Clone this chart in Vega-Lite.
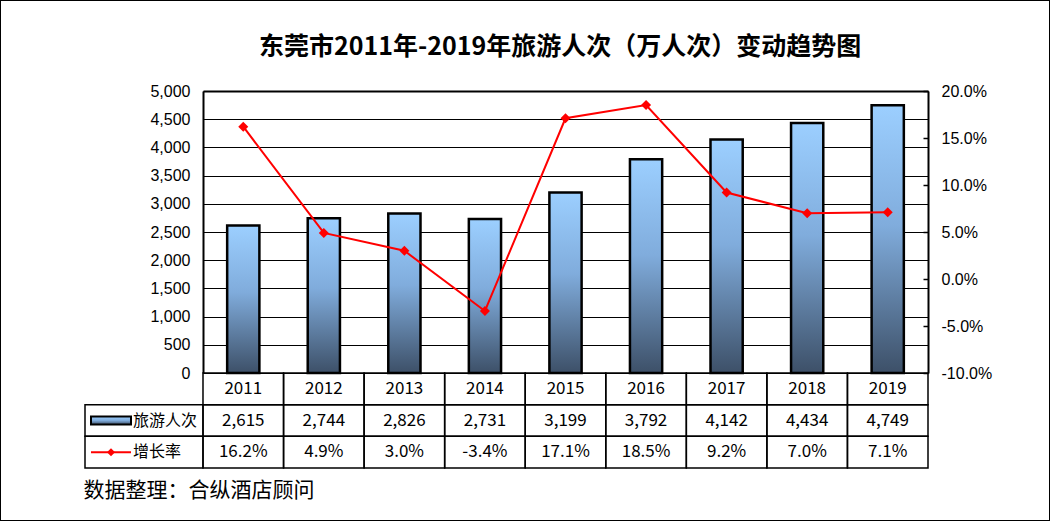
{
  "$schema": "https://vega.github.io/schema/vega-lite/v6.json",
  "width": 1050,
  "height": 521,
  "autosize": {"type": "none"},
  "padding": 0,
  "background": "white",
  "config": {
    "view": {"stroke": "black", "strokeWidth": 2},
    "font": "Noto Sans CJK SC",
    "locale": {
      "number": {"decimal": ".", "thousands": ",", "grouping": [3], "currency": ["$", ""], "minus": "-"}
    }
  },
  "title": {
    "text": "东莞市2011年-2019年旅游人次（万人次）变动趋势图",
    "font": "Noto Sans CJK SC",
    "fontSize": 25,
    "fontWeight": "bold",
    "color": "black",
    "anchor": "middle",
    "frame": "group",
    "offset": -72,
    "baseline": "middle",
    "dx": 35
  },
  "data": {
    "values": [
      {"year": "2011", "visitors": 2615, "growth": 0.162},
      {"year": "2012", "visitors": 2744, "growth": 0.049},
      {"year": "2013", "visitors": 2826, "growth": 0.030},
      {"year": "2014", "visitors": 2731, "growth": -0.034},
      {"year": "2015", "visitors": 3199, "growth": 0.171},
      {"year": "2016", "visitors": 3792, "growth": 0.185},
      {"year": "2017", "visitors": 4142, "growth": 0.092},
      {"year": "2018", "visitors": 4434, "growth": 0.070},
      {"year": "2019", "visitors": 4749, "growth": 0.071}
    ]
  },
  "resolve": {
    "scale": {"x": "independent", "y": "independent"},
    "axis": {"x": "independent", "y": "independent"}
  },
  "layer": [
    {
      "resolve": {"scale": {"y": "independent"}, "axis": {"y": "independent"}},
      "layer": [
        {
          "mark": {
            "type": "bar",
            "width": {"band": 0.4},
            "stroke": "black",
            "strokeWidth": 2.5,
            "fill": {
              "gradient": "linear",
              "x1": 0, "y1": 0, "x2": 0, "y2": 1,
              "stops": [
                {"offset": 0, "color": "#9ccfff"},
                {"offset": 0.45, "color": "#80acdc"},
                {"offset": 1, "color": "#3d5068"}
              ]
            }
          },
          "encoding": {
            "x": {
              "field": "year", "type": "ordinal",
              "scale": {"range": [203, 928], "paddingInner": 0, "paddingOuter": 0},
              "axis": {
                "orient": "top", "offset": -91, "labels": false, "ticks": false,
                "grid": false, "domain": true, "domainColor": "black", "domainWidth": 2, "title": null
              }
            },
            "y": {
              "field": "visitors", "type": "quantitative",
              "scale": {"domain": [0, 5000], "range": [373, 91], "nice": false},
              "axis": {
                "orient": "left", "offset": -203,
                "values": [0, 500, 1000, 1500, 2000, 2500, 3000, 3500, 4000, 4500, 5000],
                "format": ",.0f", "grid": true, "gridColor": "black", "gridWidth": 1, "gridOpacity": 1,
                "ticks": false, "domain": true, "domainColor": "black", "domainWidth": 2,
                "labelFont": "Liberation Sans", "labelFontSize": 16, "labelColor": "black",
                "labelPadding": 13, "title": null
              }
            }
          }
        },
        {
          "mark": {
            "type": "line", "color": "#ff0000", "strokeWidth": 2,
            "point": {"shape": "diamond", "size": 100, "filled": true, "color": "#ff0000", "opacity": 1}
          },
          "encoding": {
            "x": {
              "field": "year", "type": "ordinal",
              "scale": {"range": [203, 928], "paddingInner": 0, "paddingOuter": 0}
            },
            "y": {
              "field": "growth", "type": "quantitative",
              "scale": {"domain": [-0.1, 0.2], "range": [373, 91], "nice": false, "zero": false},
              "axis": {
                "orient": "right", "offset": -122,
                "values": [-0.1, -0.05, 0, 0.05, 0.1, 0.15, 0.2],
                "format": ".1%", "grid": false,
                "ticks": true, "tickSize": -5, "tickColor": "black", "tickWidth": 1.5,
                "domain": true, "domainColor": "black", "domainWidth": 2,
                "labelFont": "Liberation Sans", "labelFontSize": 16, "labelColor": "black",
                "labelPadding": 18, "labelAlign": "left", "title": null
              }
            }
          }
        },
        {
          "encoding": {
            "x": {
              "field": "year", "type": "ordinal",
              "scale": {"range": [203, 928], "paddingInner": 0, "paddingOuter": 0}
            }
          },
          "layer": [
            {
              "mark": {"type": "rect", "fill": "transparent", "stroke": "black", "strokeWidth": 1.5},
              "encoding": {
                "y": {"datum": "年份", "type": "nominal",
                  "scale": {"domain": ["年份", "旅游人次", "增长率"], "range": [373, 468], "paddingInner": 0, "paddingOuter": 0},
                  "axis": null}
              }
            },
            {
              "mark": {"type": "rect", "fill": "transparent", "stroke": "black", "strokeWidth": 1.5},
              "encoding": {
                "y": {"datum": "旅游人次", "type": "nominal",
                  "scale": {"domain": ["年份", "旅游人次", "增长率"], "range": [373, 468], "paddingInner": 0, "paddingOuter": 0},
                  "axis": null}
              }
            },
            {
              "mark": {"type": "rect", "fill": "transparent", "stroke": "black", "strokeWidth": 1.5},
              "encoding": {
                "y": {"datum": "增长率", "type": "nominal",
                  "scale": {"domain": ["年份", "旅游人次", "增长率"], "range": [373, 468], "paddingInner": 0, "paddingOuter": 0},
                  "axis": null}
              }
            },
            {
              "mark": {"type": "text", "font": "Noto Sans CJK SC", "fontSize": 17, "color": "black", "baseline": "middle"},
              "encoding": {
                "y": {"datum": "年份", "type": "nominal",
                  "scale": {"domain": ["年份", "旅游人次", "增长率"], "range": [373, 468], "paddingInner": 0, "paddingOuter": 0},
                  "axis": null},
                "text": {"field": "year"}
              }
            },
            {
              "mark": {"type": "text", "font": "Noto Sans CJK SC", "fontSize": 17, "color": "black", "baseline": "middle"},
              "encoding": {
                "y": {"datum": "旅游人次", "type": "nominal",
                  "scale": {"domain": ["年份", "旅游人次", "增长率"], "range": [373, 468], "paddingInner": 0, "paddingOuter": 0},
                  "axis": null},
                "text": {"field": "visitors", "type": "quantitative", "format": ",.0f"}
              }
            },
            {
              "mark": {"type": "text", "font": "Noto Sans CJK SC", "fontSize": 17, "color": "black", "baseline": "middle"},
              "encoding": {
                "y": {"datum": "增长率", "type": "nominal",
                  "scale": {"domain": ["年份", "旅游人次", "增长率"], "range": [373, 468], "paddingInner": 0, "paddingOuter": 0},
                  "axis": null},
                "text": {"field": "growth", "type": "quantitative", "format": ".1%"}
              }
            }
          ]
        }
      ]
    },
    {
      "data": {"values": [{"row": "旅游人次"}, {"row": "增长率"}]},
      "encoding": {
        "x": {
          "datum": "label", "type": "nominal",
          "scale": {"domain": ["label"], "range": [85, 203], "paddingInner": 0, "paddingOuter": 0},
          "axis": {
            "orient": "bottom", "offset": -53, "labels": false, "ticks": false, "domain": false, "grid": false,
            "title": "数据整理：合纵酒店顾问",
            "titleFont": "Noto Sans CJK SC", "titleFontSize": 21, "titleFontWeight": "normal",
            "titleColor": "black", "titleX": 83, "titleY": 22, "titleAlign": "left",
            "titleAnchor": "start", "titleBaseline": "middle"
          }
        },
        "y": {
          "field": "row", "type": "nominal",
          "scale": {"domain": ["年份", "旅游人次", "增长率"], "range": [373, 468], "paddingInner": 0, "paddingOuter": 0},
          "axis": null
        }
      },
      "layer": [
        {
          "mark": {"type": "rect", "fill": "transparent", "stroke": "black", "strokeWidth": 1.5}
        },
        {
          "mark": {"type": "text", "font": "Noto Sans CJK SC", "fontSize": 16, "color": "black", "align": "left", "baseline": "middle", "dx": -11},
          "encoding": {"text": {"field": "row"}}
        },
        {
          "transform": [{"filter": "datum.row === '旅游人次'"}],
          "mark": {
            "type": "point", "shape": "M-1,-0.2L1,-0.2L1,0.2L-1,0.2Z", "size": 1600,
            "filled": true, "opacity": 1, "stroke": "black", "strokeWidth": 2, "xOffset": -33,
            "fill": {
              "gradient": "linear",
              "x1": 0, "y1": 0, "x2": 0, "y2": 1,
              "stops": [
                {"offset": 0, "color": "#9ccfff"},
                {"offset": 0.5, "color": "#80acdc"},
                {"offset": 1, "color": "#3d5068"}
              ]
            }
          }
        },
        {
          "transform": [{"filter": "datum.row === '增长率'"}],
          "mark": {"type": "point", "shape": "stroke", "size": 1600, "filled": false, "opacity": 1, "stroke": "#ff0000", "strokeWidth": 2, "xOffset": -33}
        },
        {
          "transform": [{"filter": "datum.row === '增长率'"}],
          "mark": {"type": "point", "shape": "diamond", "size": 64, "filled": true, "opacity": 1, "color": "#ff0000", "xOffset": -33}
        }
      ]
    }
  ]
}
